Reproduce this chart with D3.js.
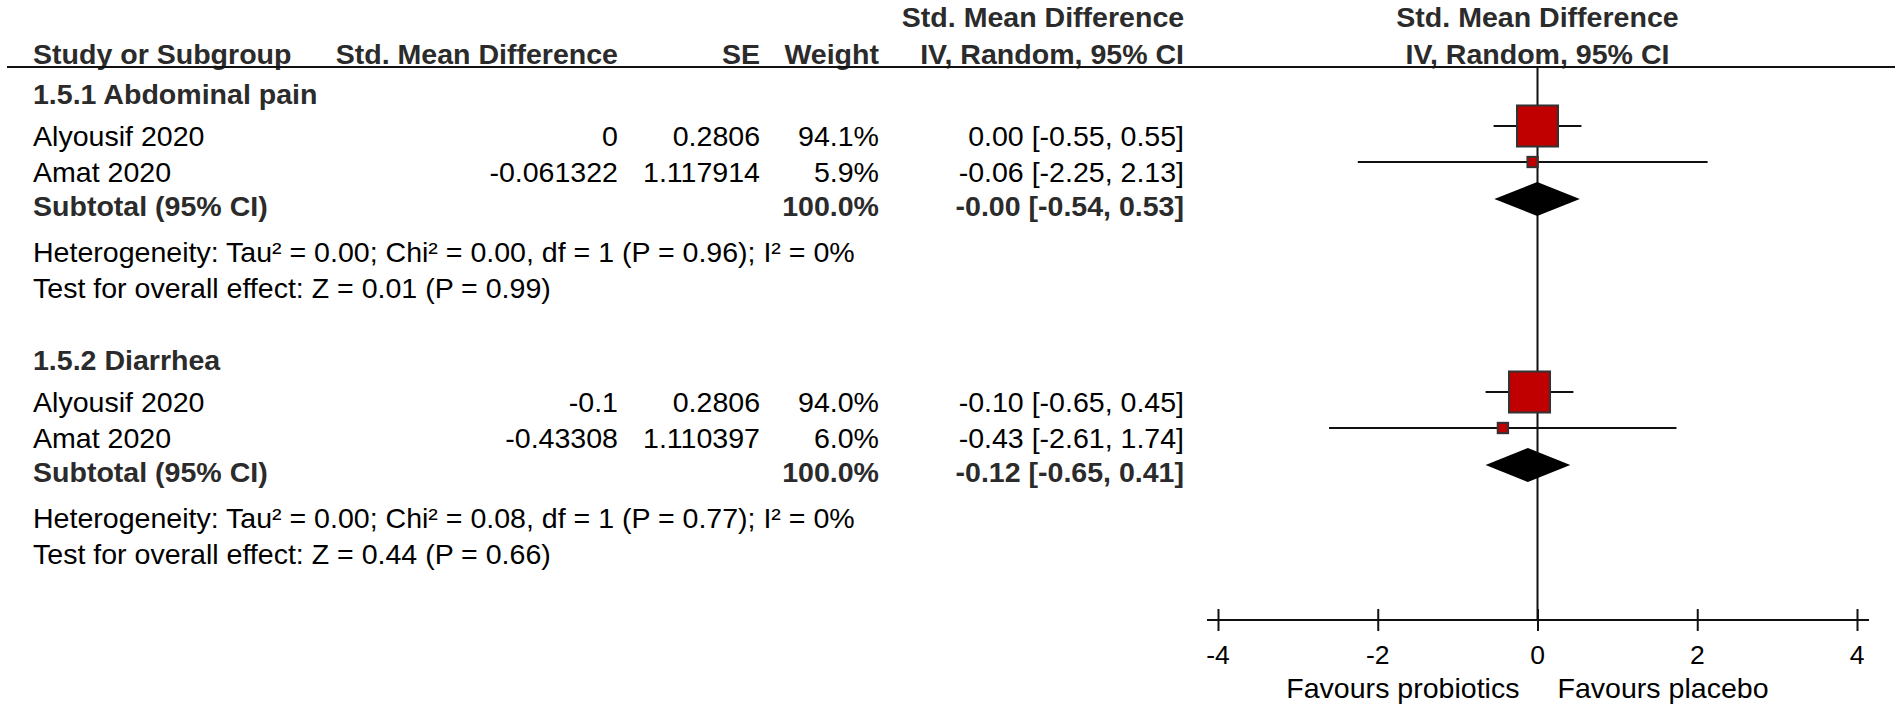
<!DOCTYPE html>
<html>
<head>
<meta charset="utf-8">
<script src="https://cdn.jsdelivr.net/npm/d3@7"></script>
<style>
  body { margin: 0; background: #fff; }
  svg { display: block; }
  text { font-family: "Liberation Sans", Arial, sans-serif; }
</style>
</head>
<body>
<svg id="chart" width="1902" height="708"></svg>
<script>
// data
var groupNames = ["1.5.1 Abdominal pain", "1.5.2 Diarrhea"];
var studyNames = ["Alyousif 2020", "Amat 2020", "Alyousif 2020", "Amat 2020"];
var studyGroup = [0, 0, 1, 1];
var smdText = ["0", "-0.061322", "-0.1", "-0.43308"];
var seText = ["0.2806", "1.117914", "0.2806", "1.110397"];
var weights = [94.1, 5.9, 94.0, 6.0];
var est = [0, -0.061322, -0.1, -0.43308];
var ciLow = [-0.55, -2.25, -0.65, -2.61];
var ciHigh = [0.55, 2.13, 0.45, 1.74];
var subEst = [-0.004, -0.12];
var subLow = [-0.54, -0.65];
var subHigh = [0.53, 0.41];
var hetText = ["Heterogeneity: Tau\u00b2 = 0.00; Chi\u00b2 = 0.00, df = 1 (P = 0.96); I\u00b2 = 0%",
               "Heterogeneity: Tau\u00b2 = 0.00; Chi\u00b2 = 0.08, df = 1 (P = 0.77); I\u00b2 = 0%"];
var testText = ["Test for overall effect: Z = 0.01 (P = 0.99)",
                "Test for overall effect: Z = 0.44 (P = 0.66)"];
var xTicks = [-4, -2, 0, 2, 4];
var axisLabels = ["Favours probiotics", "Favours placebo"];

var svg = d3.select("#chart");
var SX = 1.02;         // the source font is a touch wider than Liberation Sans
var FS = 28;

var x = d3.scaleLinear().domain([-4, 4]).range([1218, 1857]);

// vertical layout: baseline of each text row
var groupTop = d3.scaleLinear().domain([0, 1]).range([104, 370]);
var rowOff = { header: 0, s0: 42, s1: 78, sub: 112, het: 158, test: 194 };
var markShift = -20;   // plot marks sit a little above the text baseline

var fmt = function(v) { return v.toFixed(2); };
var ciStr = function(e, l, h) { return fmt(e) + " [" + fmt(l) + ", " + fmt(h) + "]"; };

function txt(px, py, s, anchor, bold, size) {
  return svg.append("text")
    .attr("transform", "translate(" + px + "," + py + ") scale(" + SX + ",1)")
    .attr("text-anchor", anchor || "start")
    .attr("font-size", size || FS)
    .attr("font-weight", bold ? "bold" : "normal")
    .attr("fill", bold ? "#2b2b2b" : "#000")
    .text(s);
}

var colName = 33, colSmd = 618, colSe = 760, colW = 879, colCi = 1184;

// header
txt(1043, 27, "Std. Mean Difference", "middle", true);
txt(x(0), 27, "Std. Mean Difference", "middle", true);
txt(colName, 64, "Study or Subgroup", "start", true);
txt(colSmd, 64, "Std. Mean Difference", "end", true);
txt(colSe, 64, "SE", "end", true);
txt(colW, 64, "Weight", "end", true);
txt(colCi, 64, "IV, Random, 95% CI", "end", true);
txt(x(0), 64, "IV, Random, 95% CI", "middle", true);

svg.append("line")
  .attr("x1", 7).attr("x2", 1895).attr("y1", 67).attr("y2", 67)
  .attr("stroke", "#111").attr("stroke-width", 2);

var axisY = 620;

// zero line
svg.append("line")
  .attr("x1", x(0)).attr("x2", x(0)).attr("y1", 67).attr("y2", axisY)
  .attr("stroke", "#111").attr("stroke-width", 2);

groupNames.forEach(function(gname, gi) {
  var top = groupTop(gi);
  txt(colName, top + rowOff.header, gname, "start", true);

  var idx = d3.range(studyNames.length).filter(function(i) { return studyGroup[i] == gi; });
  idx.forEach(function(i, k) {
    var by = top + rowOff["s" + k];
    txt(colName, by, studyNames[i]);
    txt(colSmd, by, smdText[i], "end");
    txt(colSe, by, seText[i], "end");
    txt(colW, by, weights[i].toFixed(1) + "%", "end");
    txt(colCi, by, ciStr(est[i], ciLow[i], ciHigh[i]), "end");

    var my = by + markShift;
    svg.append("line")
      .attr("x1", x(ciLow[i])).attr("x2", x(ciHigh[i]))
      .attr("y1", my).attr("y2", my)
      .attr("stroke", "#111").attr("stroke-width", 2);
    var side = 4.23 * Math.sqrt(weights[i]);
    svg.append("rect")
      .attr("x", x(est[i]) - side / 2).attr("y", my - side / 2)
      .attr("width", side).attr("height", side)
      .attr("fill", "#c00000").attr("stroke", "#333").attr("stroke-width", 2);
  });

  var sy = top + rowOff.sub;
  txt(colName, sy, "Subtotal (95% CI)", "start", true);
  txt(colW, sy, d3.sum(idx, function(i) { return weights[i]; }).toFixed(1) + "%", "end", true);
  txt(colCi, sy, ciStr(subEst[gi], subLow[gi], subHigh[gi]), "end", true);

  var dy = sy + markShift + 3;
  svg.append("path")
    .attr("d", "M" + x(subLow[gi]) + "," + dy +
               "L" + x(subEst[gi]) + "," + (dy - 17) +
               "L" + x(subHigh[gi]) + "," + dy +
               "L" + x(subEst[gi]) + "," + (dy + 17) + "Z")
    .attr("fill", "#000");

  txt(colName, top + rowOff.het, hetText[gi]);
  txt(colName, top + rowOff.test, testText[gi]);
});

// axis
svg.append("line")
  .attr("x1", x(-4) - 11).attr("x2", x(4) + 12).attr("y1", axisY).attr("y2", axisY)
  .attr("stroke", "#111").attr("stroke-width", 2);

var axis = svg.append("g")
  .attr("transform", "translate(0," + axisY + ")")
  .call(d3.axisBottom(x).tickValues(xTicks).tickSize(11).tickFormat(d3.format("d")));
axis.select(".domain").remove();
axis.selectAll(".tick line").attr("y1", -11).attr("stroke", "#111").attr("stroke-width", 2);
axis.selectAll(".tick text").remove();

xTicks.forEach(function(t) {
  txt(x(t), 664, String(t), "middle", false, 26);
});

txt(x(0) - 18, 698, axisLabels[0], "end");
txt(x(0) + 20, 698, axisLabels[1], "start");
</script>
</body>
</html>
